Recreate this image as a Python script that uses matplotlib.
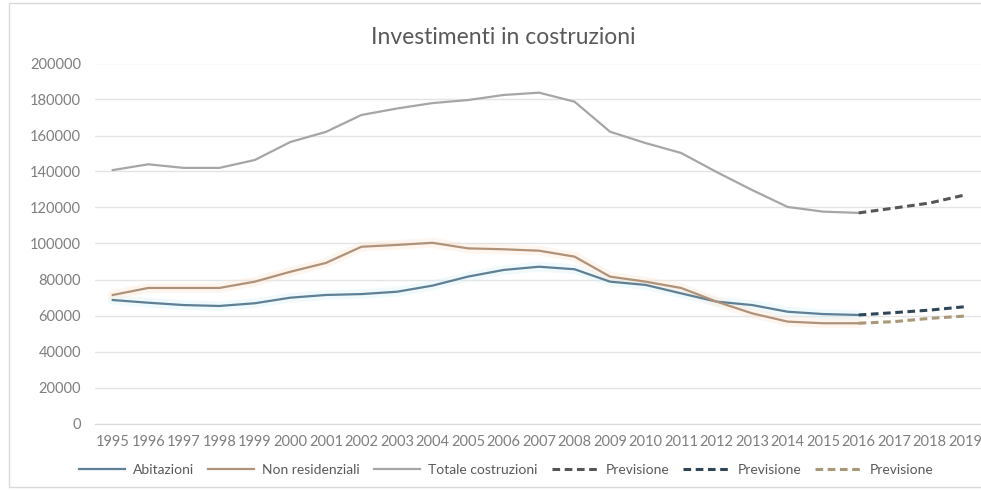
import numpy as np
import matplotlib.pyplot as plt
from matplotlib.patches import Rectangle

plt.rcParams['font.family'] = ['Lato', 'DejaVu Sans']

anni = ["1995", "1996", "1997", "1998", "1999", "2000", "2001", "2002", "2003",
        "2004", "2005", "2006", "2007", "2008", "2009", "2010", "2011", "2012",
        "2013", "2014", "2015", "2016", "2017", "2018", "2019"]

# valori storici 1995-2016
abitazioni = [68600, 67100, 65800, 65300, 66800, 69900, 71400, 71900, 73200, 76600, 81600,
              85300, 87100, 85700, 78800, 77000, 72300, 67700, 65800, 62100, 60800, 60300]
non_residenziali = [71400, 75300, 75300, 75300, 78800, 84300, 89200, 98200, 99200, 100400, 97300,
                    96800, 96000, 92700, 81600, 78800, 75300, 67700, 61200, 56600, 55700, 55700]
totale = [140800, 144000, 142000, 142000, 146400, 156400, 162000, 171400, 175000, 178000, 179700,
          182500, 183800, 178800, 162100, 155800, 150300, 139700, 129700, 120300, 117700, 117000]

# previsioni 2016-2019
prev_totale = [117000, 119700, 122500, 127000]
prev_abitazioni = [60300, 61600, 63000, 64900]
prev_non_res = [55700, 56600, 58400, 59700]

x_hist = np.arange(len(abitazioni))
x_prev = np.arange(len(abitazioni) - 1, len(anni))

fig = plt.figure(figsize=(9.81, 4.91), dpi=100)
ax = fig.add_axes([95 / 981, 67.5 / 491, 888 / 981, 360 / 491])

# alone chiaro attorno alle linee
ax.plot(x_hist, abitazioni, color="#d6f0f7", lw=7, alpha=0.35, solid_capstyle="round", zorder=1)
ax.plot(x_hist, non_residenziali, color="#fde6d0", lw=7, alpha=0.35, solid_capstyle="round", zorder=1)

ax.plot(x_hist, abitazioni, color="#5f7f95", lw=1.6, label="Abitazioni", zorder=3)
ax.plot(x_hist, non_residenziali, color="#b0927a", lw=1.6, label="Non residenziali", zorder=3)
ax.plot(x_hist, totale, color="#a6a6a6", lw=1.6, label="Totale costruzioni", zorder=3)
ax.plot(x_prev, prev_totale, color="#555555", lw=2.2, ls=(0, (2.5, 1.5)), label="Previsione", zorder=4)
ax.plot(x_prev, prev_abitazioni, color="#2f4558", lw=2.2, ls=(0, (2.5, 1.5)), label="Previsione", zorder=4)
ax.plot(x_prev, prev_non_res, color="#a89878", lw=2.2, ls=(0, (2.5, 1.5)), label="Previsione", zorder=4)

ax.set_xlim(-0.5, len(anni) - 0.5)
ax.set_ylim(0, 200000)
ax.set_yticks(np.arange(0, 200001, 20000))
ax.set_xticks(np.arange(len(anni)))
ax.set_xticklabels(anni)
ax.grid(axis="y", color="#e4e4e4", lw=1)
ax.set_axisbelow(True)
for s in ["top", "right", "left"]:
    ax.spines[s].set_visible(False)
ax.spines["bottom"].set_color("#d9d9d9")
ax.tick_params(axis="both", length=0, labelsize=10.5, colors="#7f7f7f")
ax.tick_params(axis="y", pad=10)
ax.tick_params(axis="x", pad=8)

fig.suptitle("Investimenti in costruzioni", x=0.513, y=1 - 38 / 491, va="center",
             fontsize=16.5, color="#595959")

fig.legend(loc="center", bbox_to_anchor=(506 / 981, 1 - 470 / 491), ncol=6, frameon=False,
           fontsize=10, handlelength=3.3, handletextpad=0.6, columnspacing=1.0,
           labelcolor="#595959")

fig.patches.append(Rectangle((9 / 981, 4 / 491), 1.0, 484 / 491, transform=fig.transFigure,
                             fill=False, edgecolor="#d9d9d9", lw=1))

fig.savefig("out.png", dpi=100)
